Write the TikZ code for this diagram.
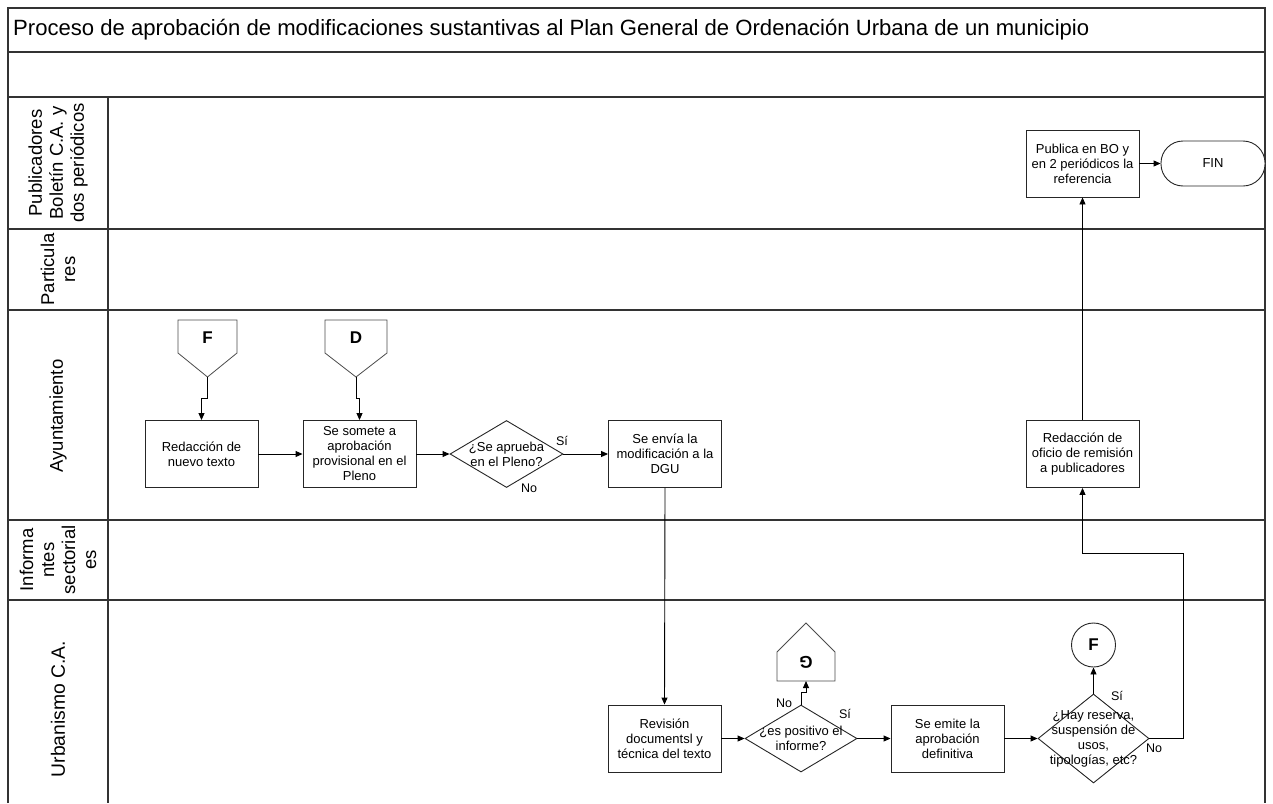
\documentclass[tikz,border=0pt]{standalone}
\usepackage{fontspec}
\setmainfont{Liberation Sans}
\usetikzlibrary{shapes.geometric,arrows.meta,calc}
\begin{document}
\begin{tikzpicture}[x=1pt,y=-1pt,
  frame/.style={draw=black!80,line width=1.2pt},
  proc/.style={draw=black!85,line width=0.9pt,fill=white,minimum width=113pt,minimum height=67pt,align=center,inner sep=1pt,font=\fontsize{13}{15}\selectfont},
  dec/.style={draw=black!85,line width=0.9pt,fill=white,diamond,inner sep=0pt},
  dectext/.style={align=center,inner sep=0pt,font=\fontsize{13}{15}\selectfont},
  marker/.style={draw=black!70,line width=0.8pt,fill=white},
  mtext/.style={font=\fontsize{17}{17}\selectfont\bfseries,inner sep=0pt},
  lane/.style={rotate=90,align=center,inner sep=0pt,font=\fontsize{18.5}{21}\selectfont},
  lbl/.style={inner sep=0pt,font=\fontsize{12.5}{15}\selectfont},
  arr/.style={draw=black,line width=0.9pt,-{Triangle[length=7pt,width=6pt]}},
  ln/.style={draw=black,line width=0.9pt}]
\useasboundingbox (0,0) rectangle (1273,803);
% frame
\draw[frame] (8,803) -- (8,8) -- (1265,8) -- (1265,803);
\foreach \yy in {52,97,229,310,520,600} \draw[frame] (8,\yy) -- (1265,\yy);
\draw[frame] (108,97) -- (108,803);
\node[anchor=west,inner sep=0pt,font=\fontsize{22.1}{23}\selectfont] (title) at (13,30) {Proceso de aprobación de modificaciones sustantivas al Plan General de Ordenación Urbana de un municipio};
% lane labels
\node[lane] (l1) at (58,163) {Publicadores\\Boletín C.A. y\\dos periódicos};
\node[lane] (l2) at (58,269.5) {Particula\\res};
\node[lane] (l3) at (58,416) {Ayuntamiento};
\node[lane] (l4) at (58,560) {Informa\\ntes\\sectorial\\es};
\node[lane,font=\fontsize{19.3}{21}\selectfont] (l5) at (58,709) {Urbanismo C.A.};
% markers F and D
\draw[marker] (178,320) -- (237,320) -- (237,353) -- (207.5,377) -- (178,353) -- cycle;
\node[mtext] (mF) at (207.5,338) {F};
\coordinate (Ftip) at (207.5,377);
\draw[marker] (325,320) -- (387,320) -- (387,353) -- (356,377) -- (325,353) -- cycle;
\node[mtext] (mD) at (356,338) {D};
\coordinate (Dtip) at (356,377);
% Ayuntamiento processes
\node[proc] (r1) at (201.5,454) {Redacción de\\nuevo texto};
\node[proc] (r2) at (359.5,454) {Se somete a\\aprobación\\provisional en el\\Pleno};
\node[dec,minimum width=113pt,minimum height=67pt] (d1) at (506.5,454) {};
\node[dectext] (d1t) at (506.5,454) {¿Se aprueba\\en el Pleno?};
\node[proc] (r3) at (665,454) {Se envía la\\modificación a la\\DGU};
\node[proc] (r6) at (1082.5,454) {Redacción de\\oficio de remisión\\a publicadores};
% Publicadores
\node[proc] (r7) at (1082.5,163.5) {Publica en BO y\\en 2 periódicos la\\referencia};
\node[draw=black!85,line width=0.9pt,fill=white,rounded corners=22pt,minimum width=104pt,minimum height=45pt,inner sep=0pt,font=\fontsize{13}{15}\selectfont] (fin) at (1213,163.5) {FIN};
% Urbanismo
\node[proc] (r4) at (664.5,738.5) {Revisión\\documentsl y\\técnica del texto};
\node[dec,minimum width=112pt,minimum height=67pt] (d2) at (801,738.5) {};
\node[dectext] (d2t) at (801,738) {¿es positivo el\\informe?};
\draw[marker] (777,681) -- (835,681) -- (835,652) -- (806,623) -- (777,652) -- cycle;
\node[mtext,rotate=180] (mG) at (806,662) {G};
\coordinate (Gbot) at (806,681);
\node[proc] (r5) at (947.5,738.5) {Se emite la\\aprobación\\definitiva};
\node[dec,minimum width=111pt,minimum height=89pt] (d3) at (1093.5,738.5) {};
\node[dectext] (d3t) at (1093.5,739) {¿Hay reserva,\\suspensión de\\usos,\\tipologías, etc?};
\node[draw=black!85,line width=0.9pt,fill=white,circle,minimum size=44pt,inner sep=0pt,font=\fontsize{17}{17}\selectfont\bfseries] (cF) at (1093.5,645) {F};
% connectors
\draw[arr] (Ftip) |- ($(r1.north)+(0,-22)$) -- (r1.north);
\draw[arr] (Dtip) |- ($(r2.north)+(0,-22)$) -- (r2.north);
\draw[arr] (r1.east) -- (r2.west);
\draw[arr] (r2.east) -- (d1.west);
\draw[arr] (d1.east) -- (r3.west);
\draw[arr] (r3.south) -- (r4.north);
\draw[arr] (r4.east) -- (d2.west);
\draw[arr] (d2.north) |- ($(Gbot)+(0,11)$) -- (Gbot);
\draw[arr] (d2.east) -- (r5.west);
\draw[arr] (r5.east) -- (d3.west);
\draw[arr] (d3.north) -- (cF.south);
\draw[arr] (d3.east) -- ++(34,0) |- ($(r6.south)+(0,65)$) -- (r6.south);
\draw[arr] (r6.north) -- (r7.south);
\draw[arr] (r7.east) -- (fin.west);
% labels
\node[lbl] (s1) at (562,441) {Sí};
\node[lbl] (n1) at (529,488) {No};
\node[lbl] (n2) at (784,703) {No};
\node[lbl] (s2) at (845,714) {Sí};
\node[lbl] (s3) at (1117,696) {Sí};
\node[lbl] (n3) at (1154,748) {No};
\end{tikzpicture}
\end{document}
